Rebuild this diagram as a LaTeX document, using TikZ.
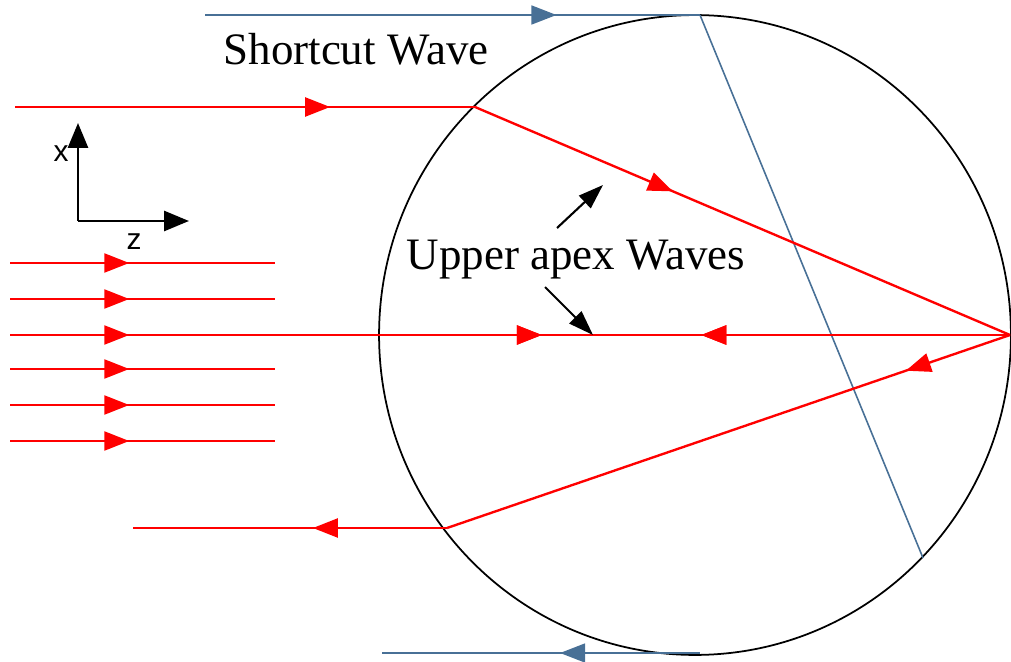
\documentclass[tikz,border=0pt]{standalone}
\usepackage{fontspec}
\setmainfont{Liberation Serif}
\newfontfamily\axisfont{Liberation Sans}
\usetikzlibrary{arrows.meta,decorations.markings,calc,shapes.geometric}
\definecolor{bluegray}{RGB}{72,112,150}
\tikzset{
  ray/.style={draw=red, line width=1.35pt},
  blueline/.style={draw=bluegray, line width=0.9pt},
  fwdtip/.style={postaction={decorate}, decoration={markings, mark=at position #1 with {\arrow{Triangle[length=0.5cm,width=0.38cm]}}}},
  backtip/.style={postaction={decorate}, decoration={markings, mark=at position #1 with {\arrowreversed{Triangle[length=0.5cm,width=0.38cm]}}}},
  pointer/.style={draw=black, line width=1.2pt, -{Triangle[length=0.5cm,width=0.34cm]}},
  axis/.style={draw=black, line width=1.6pt, -{Triangle[length=0.5cm,width=0.4cm]}},
  label/.style={font=\fontsize{25.6}{30}\selectfont, anchor=base},
}
\begin{document}
\begin{tikzpicture}[x=0.02cm, y=-0.02cm]
    \useasboundingbox (0,0) rectangle (1011,662);

    % sphere and tangent/chord lines
    \node[draw=black, line width=1pt, ellipse, minimum width=12.64cm, minimum height=12.8cm, inner sep=0pt] (sphere) at (695,335) {};
    \coordinate (toptan) at (700,15);
    \coordinate (chordend) at (923,558);
    \coordinate (shortin) at (205,15);
    \coordinate (bottan) at (700,653);
    \coordinate (shortout) at (382,653);
    \draw[blueline, fwdtip=0.71] (shortin) -- (toptan);
    \draw[blueline] (toptan) -- (chordend);
    \draw[blueline, fwdtip=0.44] (bottan) -- (shortout);

    % incident plane wave
    \foreach \yy in {263,299,335,369,405,441} {
        \draw[ray, fwdtip=0.45] (10,\yy) -- (275,\yy);
    }

    % rays through the sphere
    \coordinate (topin) at (15,107);
    \coordinate (tophit) at (475,107);
    \coordinate (apex) at (1010,335);
    \coordinate (midstart) at (275,335);
    \coordinate (lowhit) at (447,528);
    \coordinate (lowout) at (133,528);
    \draw[ray, fwdtip=0.685] (topin) -- (tophit);
    \draw[ray, fwdtip=0.37] (tophit) -- (apex);
    \draw[ray, fwdtip=0.363, backtip=0.58] (midstart) -- (apex);
    \draw[ray, fwdtip=0.185] (apex) -- (lowhit);
    \draw[ray, fwdtip=0.427] (lowhit) -- (lowout);

    % axes
    \coordinate (origin) at (78,221);
    \coordinate (xtip) at (78,123);
    \coordinate (ztip) at (189,221);
    \draw[axis] (origin) -- (xtip);
    \draw[axis] (origin) -- (ztip);
    \node[font=\axisfont\fontsize{17}{20}\selectfont] (xlab) at (61,154) {x};
    \node[font=\axisfont\fontsize{17}{20}\selectfont] (zlab) at (134,242) {z};

    % labels
    \node[label] (shortcut) at (356,65) {Shortcut Wave};
    \node[label] (apexlab) at (576,270) {Upper apex Waves};
    \coordinate (up0) at (557,228);
    \coordinate (up1) at (603,185);
    \coordinate (dn0) at (545,287);
    \coordinate (dn1) at (593,335);
    \draw[pointer] (up0) -- (up1);
    \draw[pointer] (dn0) -- (dn1);
\end{tikzpicture}
\end{document}
